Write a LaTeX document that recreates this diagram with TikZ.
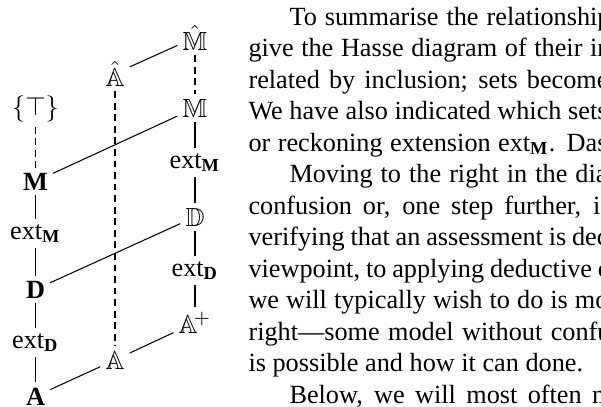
\documentclass[tikz,border=0pt]{standalone}
\usepackage{fontspec}
\setmainfont{Liberation Serif}
\IfFileExists{bbm.sty}{\usepackage{bbm}}{\usepackage{amssymb}\newcommand\mathbbm{\mathbb}}
\newcommand\extl[1]{ext\textsubscript{\textbf{#1}}}
\newlength\pxunit
\setlength\pxunit{0.38095pt}
\newcommand\jline[2]{\makebox[#1\pxunit][s]{#2}}
\begin{document}
\begin{tikzpicture}[x=0.38095pt,y=-0.38095pt,
  lbl/.style={inner sep=1.8pt, anchor=base},
  txt/.style={inner sep=0pt, anchor=base west},
  conn/.style={line width=0.4pt},
  dconn/.style={line width=0.4pt, dash pattern=on 2.6pt off 1.8pt}]
\clip (0,0) rectangle (601,407);
% diagram nodes
\node[lbl] (top) at (35.5,115) {$\{\top\}$};
\node[lbl] (M) at (35.5,190) {\textbf{M}};
\node[lbl] (eM) at (35.5,239) {\extl{M}};
\node[lbl] (D) at (35.5,298) {\textbf{D}};
\node[lbl] (eD) at (35.5,348) {\extl{D}};
\node[lbl] (A) at (35.5,405) {\textbf{A}};
\node[lbl] (Ah) at (115,86) {$\hat{\mathbbm{A}}$};
\node[lbl] (AA) at (115,369) {$\mathbbm{A}$};
\node[lbl] (Mh) at (195,50) {$\hat{\mathbbm{M}}$};
\node[lbl] (MM) at (195,117) {$\mathbbm{M}$};
\node[lbl] (eM2) at (195,168) {\extl{M}};
\node[lbl] (DD) at (195,226) {$\mathbbm{D}$};
\node[lbl] (eD2) at (195,276) {\extl{D}};
\node[lbl] (Ap) at (195,333) {$\mathbbm{A}^{\!+}$};
% connectors
\draw[dconn] (top) -- (M);
\draw[conn] (M) -- (eM) -- (D) -- (eD) -- (A);
\draw[dconn] (Ah) -- (AA);
\draw[dconn] (Mh) -- (MM);
\draw[conn] (MM) -- (eM2) -- (DD) -- (eD2) -- (Ap);
\draw[conn] (Ah) -- (Mh);
\draw[conn] (M) -- (MM);
\draw[conn] (D) -- (DD);
\draw[conn] (A) -- (AA);
\draw[conn] (AA) -- (Ap);
% text
\node[txt] (t1) at (289,25) {\jline{321}{To summarise the relationship}};
\node[txt] (t2) at (248,56.5) {\jline{362}{give the Hasse diagram of their in}};
\node[txt] (t3) at (248,88) {\jline{360}{related by inclusion; sets become}};
\node[txt] (t4) at (248,119.5) {\jline{359}{We have also indicated which sets}};
\node[txt] (t5) at (248,151) {\jline{359}{or reckoning extension \extl{M}. Das}};
\node[txt] (t6) at (289,182.5) {\jline{318}{Moving to the right in the dia}};
\node[txt] (t7) at (248,214) {\jline{352}{confusion or, one step further, i}};
\node[txt] (t8) at (248,245.5) {\jline{360}{verifying that an assessment is dec}};
\node[txt] (t9) at (248,277) {\jline{361}{viewpoint, to applying deductive c}};
\node[txt] (t10) at (248,308.5) {\jline{360}{we will typically wish to do is mo}};
\node[txt] (t11) at (248,340) {\jline{362}{right—some model without confu}};
\node[txt] (t12) at (248,371.5) {is possible and how it can done.};
\node[txt] (t13) at (289,403) {\jline{323}{Below, we will most often m}};
\end{tikzpicture}
\end{document}
